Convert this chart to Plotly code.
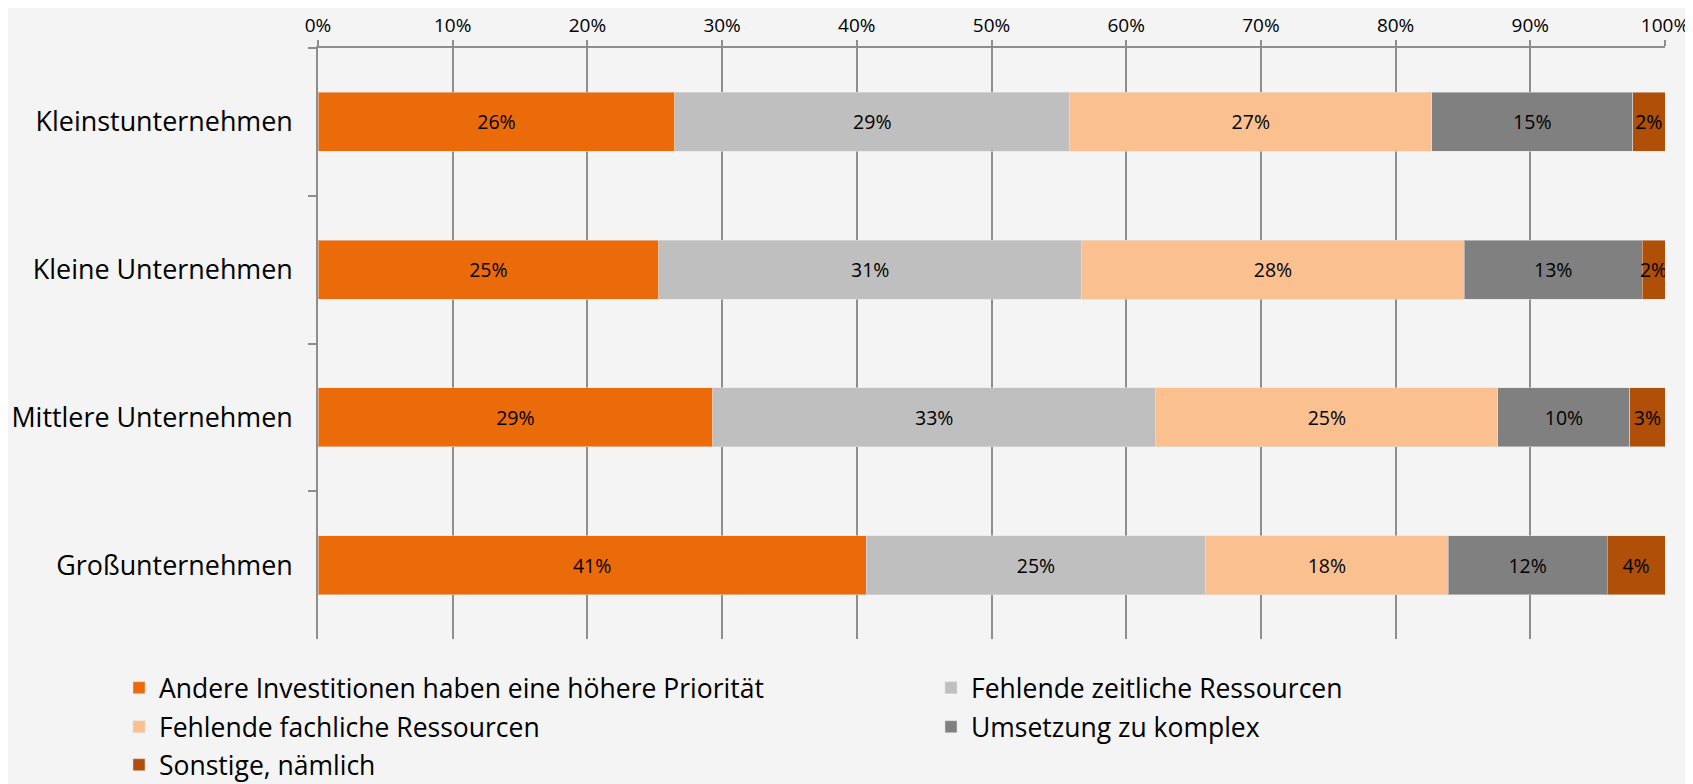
import plotly.graph_objects as go

categories = ["Kleinstunternehmen", "Kleine Unternehmen", "Mittlere Unternehmen", "Großunternehmen"]

series_names = [
    "Andere Investitionen haben eine höhere Priorität",
    "Fehlende zeitliche Ressourcen",
    "Fehlende fachliche Ressourcen",
    "Umsetzung zu komplex",
    "Sonstige, nämlich",
]
andere = [26.5, 25.3, 29.3, 40.7]
zeitlich = [29.3, 31.4, 32.9, 25.2]
fachlich = [26.9, 28.4, 25.4, 18.0]
komplex = [14.9, 13.2, 9.8, 11.8]
sonstige = [2.4, 1.7, 2.6, 4.3]
series_values = [andere, zeitlich, fachlich, komplex, sonstige]
colors = ["#EB6B0B", "#BFBFBF", "#FAC090", "#808080", "#B04F08"]
x_ticks = [0, 10, 20, 30, 40, 50, 60, 70, 80, 90, 100]
x_ticktext = [f"{t}%" for t in x_ticks]

FONT = "Open Sans, Noto Sans, sans-serif"

# figure geometry (page has 8px body margin)
W, H = 1685, 776
ML, MR, MT, MB = 310, 28, 40, 145
PW = W - ML - MR
PH = H - MT - MB

legend_ids = ["legend", "legend2", "legend3", "legend4", "legend5"]
# text-left x and row-center y in figure pixels
legend_pos = [(151, 680), (963, 680), (151, 719), (963, 719), (151, 757)]

fig = go.Figure()
for name, vals, col, lid in zip(series_names, series_values, colors, legend_ids):
    fig.add_trace(go.Bar(
        y=categories, x=vals, name=name, orientation="h",
        marker=dict(color=col, line=dict(color="rgba(225,225,225,0.5)", width=1)),
        text=[f"{round(v)}%" for v in vals],
        textposition="inside", insidetextanchor="middle", textangle=0,
        textfont=dict(color="#000000", size=19.5, family=FONT),
        constraintext="none",
        hoverinfo="skip",
        legend=lid,
    ))

legends = {}
for lid, (tx, ty) in zip(legend_ids, legend_pos):
    legends[lid] = dict(
        orientation="h",
        x=(tx - 40 - ML) / PW, xanchor="left",
        y=(H - MB - ty) / PH, yanchor="middle",
        font=dict(size=26.5, family=FONT, color="#000000"),
        itemwidth=30,
        bgcolor="rgba(0,0,0,0)", borderwidth=0,
    )

fig.update_layout(
    barmode="stack",
    bargap=0.6,
    width=W, height=H,
    paper_bgcolor="#F4F4F4", plot_bgcolor="#F4F4F4",
    margin=dict(l=ML, r=MR, t=MT, b=MB, autoexpand=False),
    font=dict(family=FONT, color="#000000"),
    uniformtext=dict(minsize=19, mode="show"),
    showlegend=True,
    xaxis=dict(
        side="top", range=[0, 100], tickmode="array",
        tickvals=x_ticks, ticktext=x_ticktext,
        showgrid=True, gridcolor="#8E8E8E", gridwidth=1.5,
        showline=True, linecolor="#8E8E8E", linewidth=1.5,
        ticks="outside", ticklen=6, tickcolor="#8E8E8E", tickwidth=1.5,
        tickfont=dict(size=19, family=FONT, color="#000000"),
        ticklabelstandoff=1,
        zeroline=False, fixedrange=True,
    ),
    yaxis=dict(
        autorange="reversed", type="category",
        tickson="boundaries", ticks="outside", ticklen=8,
        tickcolor="#8E8E8E", tickwidth=1.5,
        showline=True, linecolor="#8E8E8E", linewidth=1.5,
        showgrid=False,
        tickfont=dict(size=26.9, family=FONT, color="#000000"),
        ticklabelstandoff=18,
        fixedrange=True,
    ),
    **legends,
)

fig.write_html("out.html")
